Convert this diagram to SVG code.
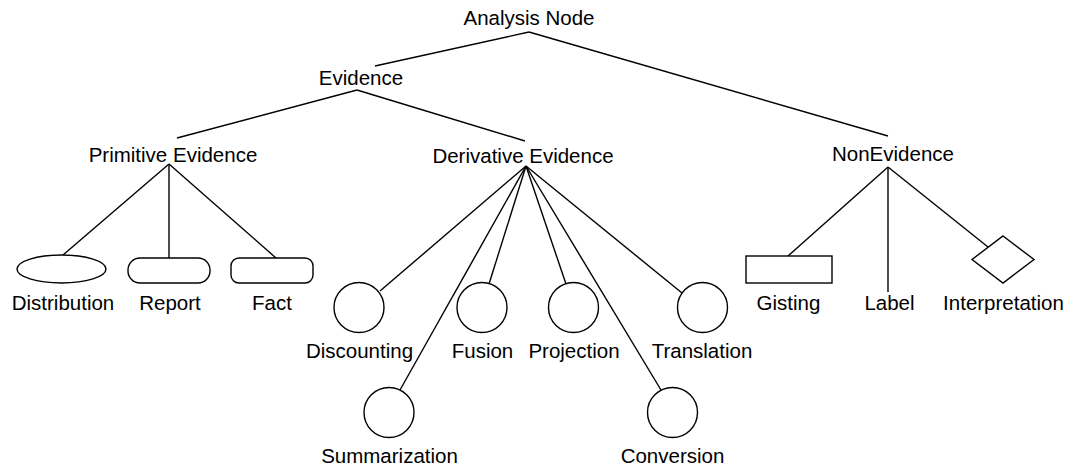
<svg xmlns="http://www.w3.org/2000/svg" width="1068" height="469" viewBox="0 0 1068 469">
  <style>
    .lbl { font-family: "Liberation Sans", Arial, Helvetica, sans-serif; font-size: 20.5px; fill: #000; text-anchor: middle; }
    .shape { fill: #fff; stroke: #000; stroke-width: 1.4; }
    .edge { stroke: #000; stroke-width: 1.4; fill: none; }
  </style>
  <rect width="1068" height="469" fill="#fff"/>

  <!-- tree edges -->
  <g id="connectors" class="edge">
    <line x1="529" y1="32" x2="375" y2="66"/>
    <line x1="529" y1="32" x2="888" y2="136"/>
    <line x1="357" y1="90" x2="177" y2="138"/>
    <line x1="357" y1="90" x2="525" y2="141"/>
    <line x1="169" y1="164" x2="63" y2="255"/>
    <line x1="169" y1="164" x2="169" y2="258"/>
    <line x1="169" y1="164" x2="276" y2="258"/>
    <line x1="526" y1="166" x2="380" y2="291"/>
    <line x1="526" y1="166" x2="400" y2="390"/>
    <line x1="526" y1="166" x2="489" y2="284"/>
    <line x1="526" y1="166" x2="566" y2="284"/>
    <line x1="526" y1="166" x2="682" y2="293"/>
    <line x1="526" y1="166" x2="661" y2="390"/>
    <line x1="888" y1="167" x2="788" y2="256"/>
    <line x1="888" y1="167" x2="888" y2="292"/>
    <line x1="888" y1="167" x2="988" y2="247"/>
  </g>

  <g id="analysis-node"><text class="lbl" x="529" y="25">Analysis Node</text></g>
  <g id="evidence"><text class="lbl" x="361" y="85">Evidence</text></g>
  <g id="primitive-evidence"><text class="lbl" x="173" y="162">Primitive Evidence</text></g>
  <g id="derivative-evidence"><text class="lbl" x="523" y="163">Derivative Evidence</text></g>
  <g id="non-evidence"><text class="lbl" x="893" y="161">NonEvidence</text></g>

  <g id="distribution">
    <ellipse class="shape" cx="61.5" cy="269" rx="44.5" ry="14"/>
    <text class="lbl" x="63" y="310">Distribution</text>
  </g>
  <g id="report">
    <rect class="shape" x="128" y="258" width="82" height="25" rx="12" ry="12"/>
    <text class="lbl" x="170" y="310">Report</text>
  </g>
  <g id="fact">
    <rect class="shape" x="231" y="258" width="82" height="25" rx="8" ry="8"/>
    <text class="lbl" x="272" y="310">Fact</text>
  </g>

  <g id="discounting">
    <circle class="shape" cx="359" cy="307.5" r="25"/>
    <text class="lbl" x="359.5" y="358">Discounting</text>
  </g>
  <g id="fusion">
    <circle class="shape" cx="482" cy="307.5" r="25"/>
    <text class="lbl" x="482.5" y="358">Fusion</text>
  </g>
  <g id="projection">
    <circle class="shape" cx="573.5" cy="307.5" r="25"/>
    <text class="lbl" x="574" y="358">Projection</text>
  </g>
  <g id="translation">
    <circle class="shape" cx="702.5" cy="307.5" r="25"/>
    <text class="lbl" x="702" y="358">Translation</text>
  </g>
  <g id="summarization">
    <circle class="shape" cx="389" cy="412.5" r="25"/>
    <text class="lbl" x="389.5" y="463">Summarization</text>
  </g>
  <g id="conversion">
    <circle class="shape" cx="672.5" cy="412.5" r="25"/>
    <text class="lbl" x="672.5" y="463">Conversion</text>
  </g>

  <g id="gisting">
    <rect class="shape" x="746" y="256" width="86" height="27"/>
    <text class="lbl" x="788.5" y="310">Gisting</text>
  </g>
  <g id="label">
    <text class="lbl" x="889.5" y="310">Label</text>
  </g>
  <g id="interpretation">
    <polygon class="shape" points="1003,236 1034,259.5 1003,283 972,259.5"/>
    <text class="lbl" x="1003.5" y="310">Interpretation</text>
  </g>
</svg>
